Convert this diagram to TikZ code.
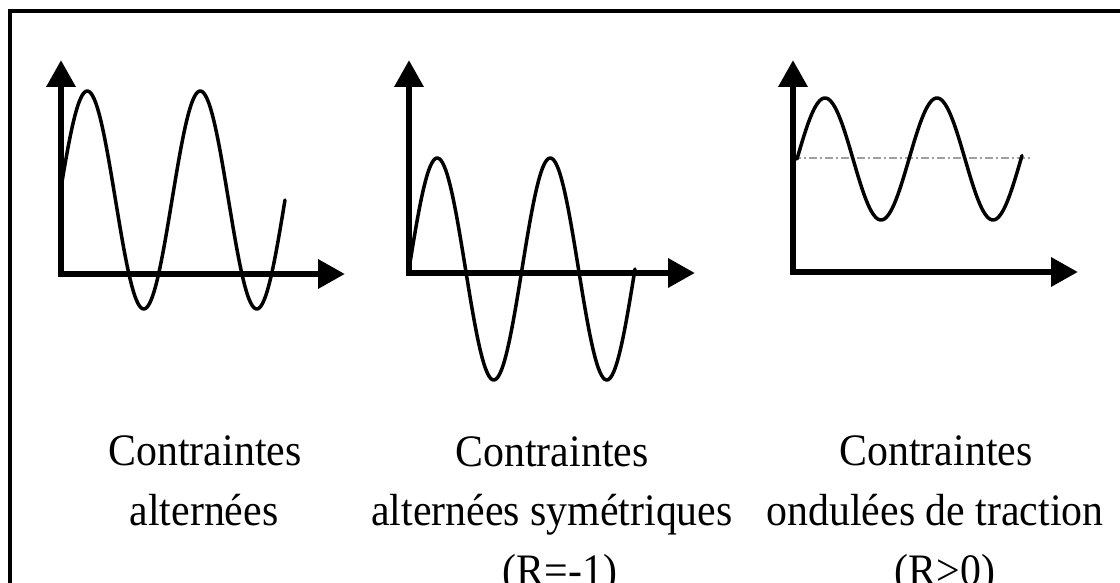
\documentclass[tikz,border=0pt]{standalone}
\usepackage{fontspec}
\setmainfont{Liberation Serif}
\usetikzlibrary{arrows.meta}
\begin{document}
\begin{tikzpicture}[x=1pt,y=-1pt,
  axis/.style={line width=6.5pt, line join=miter,
    {Triangle[length=27pt,width=28pt]}-{Triangle[length=27pt,width=28pt]}},
  wave/.style={line width=3.5pt, line cap=round, line join=round},
  caption/.style={font=\fontsize{45}{60}\selectfont, anchor=base, inner sep=0pt, xscale=0.93},
  mean/.style={line width=2pt, draw=gray!75, dash pattern=on 8pt off 3pt on 2pt off 3pt}]
\useasboundingbox (0,0) rectangle (1120,583);
% frame (top and left edges)
\draw[line width=4pt] (1120,11) -- (10,11) -- (10,583);

% plot 1
\coordinate (y1) at (61,60);
\coordinate (x1) at (345,274);
\draw[wave] plot[domain=61:285, samples=150, smooth] (\x, {200 - 109*sin((\x-59)/113*360)});
\draw[axis] (y1) |- (x1);

% plot 2
\coordinate (y2) at (409,60);
\coordinate (x2) at (695,273);
\draw[wave] plot[domain=409:635, samples=150, smooth] (\x, {269 - 111*sin((\x-409)/113*360)});
\draw[axis] (y2) |- (x2);

% plot 3
\coordinate (y3) at (793,60);
\coordinate (x3) at (1078,272);
\coordinate (m3a) at (793,158);
\coordinate (m3b) at (1030,158);
\draw[mean] (m3a) -- (m3b);
\draw[wave] plot[domain=797:1022, samples=150, smooth] (\x, {159 - 61*sin((\x-797)/112*360)});
\draw[axis] (y3) |- (x3);

% captions
\node[caption] (c1a) at (205,465) {Contraintes};
\node[caption] (c1b) at (204,525) {alternées};
\node[caption] (c2a) at (552,466) {Contraintes};
\node[caption] (c2b) at (552,525) {alternées symétriques};
\node[caption] (c2c) at (560,585) {(R=-1)};
\node[caption] (c3a) at (936,465) {Contraintes};
\node[caption] (c3b) at (935,525) {ondulées de traction};
\node[caption] (c3c) at (945,585) {(R>0)};
\end{tikzpicture}
\end{document}
